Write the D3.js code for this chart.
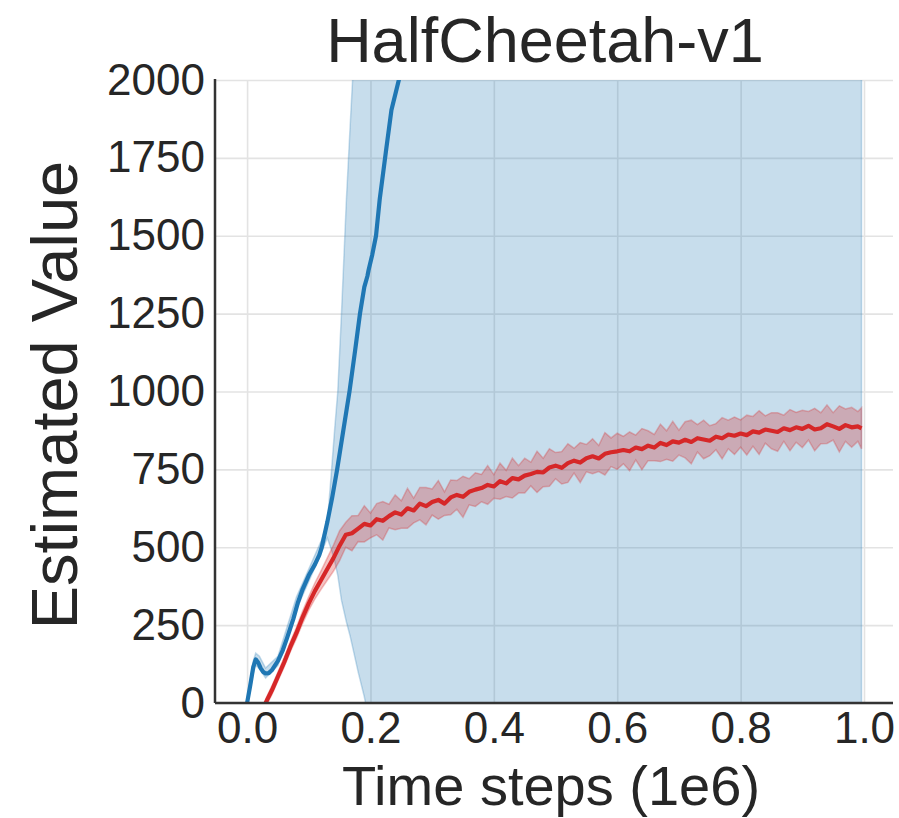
<!DOCTYPE html>
<html>
<head>
<meta charset="UTF-8">
<script src="https://cdn.jsdelivr.net/npm/d3@7/dist/d3.min.js"></script>
<style>
body{
    margin:0;
    background-color:#fff;
    font-family:"Liberation Sans", Arial, Helvetica, sans-serif;
}
.grid line{ stroke:#e3e3e3; stroke-width:1.6; }
.grid path{ display:none; }
.axis text{ fill:#262626; font-size:44px; }
</style>
</head>
<body>
<script>

// ---- data ----
var xTicks = [0.0, 0.2, 0.4, 0.6, 0.8, 1.0];
var yTicks = [0, 250, 500, 750, 1000, 1250, 1500, 1750, 2000];

// blue run (value blows up)
var blueX = [0.000,0.005,0.010,0.014,0.018,0.022,0.026,0.030,0.035,0.040,0.045,0.050,0.058,0.065,0.070,0.075,0.082,0.090,0.100,0.110,0.117,0.121,0.130,0.138,0.146,0.156,0.166,0.175,0.183,0.190,0.195,0.197,0.203,0.209,0.215,0.225,0.234,0.246,0.260];
var blueY = [0,55,115,140,130,112,100,95,96,105,120,135,170,210,240,270,320,365,410,445,475,500,580,660,750,875,1000,1130,1250,1335,1370,1390,1440,1500,1617,1770,1904,2000,2180];

var blueBandX  = [0.000,0.010,0.014,0.020,0.030,0.050,0.080,0.100,0.120,0.130,0.137,0.142,0.147,0.153,0.161,0.167,0.171,0.180,0.190,0.200,0.250,0.500,0.750,0.996];
var blueBandLo = [-10,95,120,110,80,120,300,390,480,530,490,455,410,330,260,215,180,100,20,-80,-900,-2500,-3000,-3200];
var blueBandHi = [10,135,160,150,112,150,340,430,520,575,750,880,1000,1250,1617,1850,2000,2400,3000,3600,5000,7000,8000,8200];

// red run
var redX = [0.03,0.04,0.05,0.06,0.07,0.08,0.09,0.10,0.11,0.12,0.13,0.14,0.15,0.16,0.17,0.18,0.19,0.20,
            0.21,0.22,0.23,0.24,0.25,0.26,0.27,0.28,0.29,0.30,0.31,0.32,0.33,0.34,0.35,0.36,0.37,0.38,0.39,0.40,
            0.41,0.42,0.43,0.44,0.45,0.46,0.47,0.48,0.49,0.50,0.51,0.52,0.53,0.54,0.55,0.56,0.57,0.58,0.59,0.60,
            0.61,0.62,0.63,0.64,0.65,0.66,0.67,0.68,0.69,0.70,0.71,0.72,0.73,0.74,0.75,0.76,0.77,0.78,0.79,0.80,
            0.81,0.82,0.83,0.84,0.85,0.86,0.87,0.88,0.89,0.90,0.91,0.92,0.93,0.94,0.95,0.96,0.97,0.98,0.99,0.996];
var redY = [0,40,85,130,180,225,275,320,360,395,430,465,505,540,545,560,575,570,
            590,585,600,612,605,625,618,640,632,645,652,640,660,668,662,678,685,690,700,695,
            712,705,722,718,730,735,742,740,756,762,755,770,778,772,786,792,785,800,805,808,
            812,808,820,815,826,820,835,828,840,836,845,838,850,846,842,855,850,862,858,865,
            860,872,868,878,874,870,882,876,885,880,890,878,882,895,888,880,892,885,888,882];
var redSpread = [12,14,14,15,16,18,20,22,26,30,36,42,48,40,56,42,58,40,
                 50,62,38,56,44,64,40,52,60,42,62,38,56,46,66,42,54,44,62,38,
                 58,42,64,44,56,38,66,46,60,42,52,62,40,64,44,56,42,68,46,58,
                 44,62,40,66,48,42,60,46,64,40,58,70,44,62,48,42,66,46,60,44,
                 64,48,70,44,58,62,42,66,48,60,46,68,50,62,44,74,52,64,48,66];

// ---- layout ----
var W = 899, H = 818;
var plot = {left:215, right:893, top:80, bottom:703};

var x = d3.scaleLinear().domain([-0.052, 1.047]).range([plot.left, plot.right]);
var y = d3.scaleLinear().domain([0, 2000]).range([plot.bottom, plot.top]);

var svg = d3.select("body").append("svg")
    .attr("width", W)
    .attr("height", H);

svg.append("clipPath").attr("id", "clip")
  .append("rect")
    .attr("x", plot.left).attr("y", plot.top)
    .attr("width", plot.right - plot.left)
    .attr("height", plot.bottom - plot.top);

// grid
svg.append("g")
    .attr("class", "grid")
    .attr("transform", "translate(0," + plot.bottom + ")")
    .call(d3.axisBottom(x).tickValues(xTicks).tickSize(-(plot.bottom - plot.top)).tickFormat(""));
svg.append("g")
    .attr("class", "grid")
    .attr("transform", "translate(" + plot.left + ",0)")
    .call(d3.axisLeft(y).tickValues(yTicks).tickSize(-(plot.right - plot.left)).tickFormat(""));

var g = svg.append("g").attr("clip-path", "url(#clip)");

var bands = [
    {xs: blueBandX, lo: blueBandLo, hi: blueBandHi, color: "#1f77b4", op: 0.25},
    {xs: redX, lo: redY.map(function(d, i){ return d - redSpread[i]; }),
              hi: redY.map(function(d, i){ return d + redSpread[i]; }), color: "#d62728", op: 0.28}
];

bands.forEach(function(b){
    var area = d3.area()
        .x(function(d){ return x(b.xs[d]); })
        .y0(function(d){ return y(b.lo[d]); })
        .y1(function(d){ return y(b.hi[d]); });
    g.append("path")
        .datum(d3.range(b.xs.length))
        .attr("d", area)
        .attr("fill", b.color)
        .attr("fill-opacity", b.op)
        .attr("stroke", b.color)
        .attr("stroke-opacity", b.op)
        .attr("stroke-width", 1.5);
});

function drawLine(xs, ys, color){
    var line = d3.line()
        .x(function(d){ return x(xs[d]); })
        .y(function(d){ return y(ys[d]); });
    g.append("path")
        .datum(d3.range(xs.length))
        .attr("d", line)
        .attr("fill", "none")
        .attr("stroke", color)
        .attr("stroke-width", 4.2)
        .attr("stroke-linejoin", "round");
}
drawLine(blueX, blueY, "#1f77b4");
drawLine(redX, redY, "#d62728");

// axes
var xAxis = svg.append("g")
    .attr("class", "axis")
    .attr("transform", "translate(0," + plot.bottom + ")")
    .call(d3.axisBottom(x).tickValues(xTicks).tickSize(0).tickPadding(9).tickFormat(d3.format(".1f")));
xAxis.select(".domain").remove();

var yAxis = svg.append("g")
    .attr("class", "axis")
    .attr("transform", "translate(" + plot.left + ",0)")
    .call(d3.axisLeft(y).tickValues(yTicks).tickSize(0).tickPadding(10).tickFormat(d3.format("d")));
yAxis.select(".domain").remove();

// spines
svg.append("line")
    .attr("x1", plot.left).attr("x2", plot.right)
    .attr("y1", plot.bottom).attr("y2", plot.bottom)
    .attr("stroke", "#333").attr("stroke-width", 2.5);
svg.append("line")
    .attr("x1", plot.left).attr("x2", plot.left)
    .attr("y1", plot.top - 1).attr("y2", plot.bottom)
    .attr("stroke", "#333").attr("stroke-width", 2.5);

// labels
svg.append("text")
    .attr("x", 545).attr("y", 62)
    .attr("text-anchor", "middle")
    .attr("font-size", 63)
    .attr("fill", "#262626")
    .text("HalfCheetah-v1");

svg.append("text")
    .attr("x", 551).attr("y", 805)
    .attr("text-anchor", "middle")
    .attr("font-size", 56)
    .attr("fill", "#262626")
    .text("Time steps (1e6)");

svg.append("text")
    .attr("transform", "translate(77," + 395 + ") rotate(-90)")
    .attr("text-anchor", "middle")
    .attr("font-size", 65)
    .attr("fill", "#262626")
    .text("Estimated Value");

</script>
</body>
</html>
